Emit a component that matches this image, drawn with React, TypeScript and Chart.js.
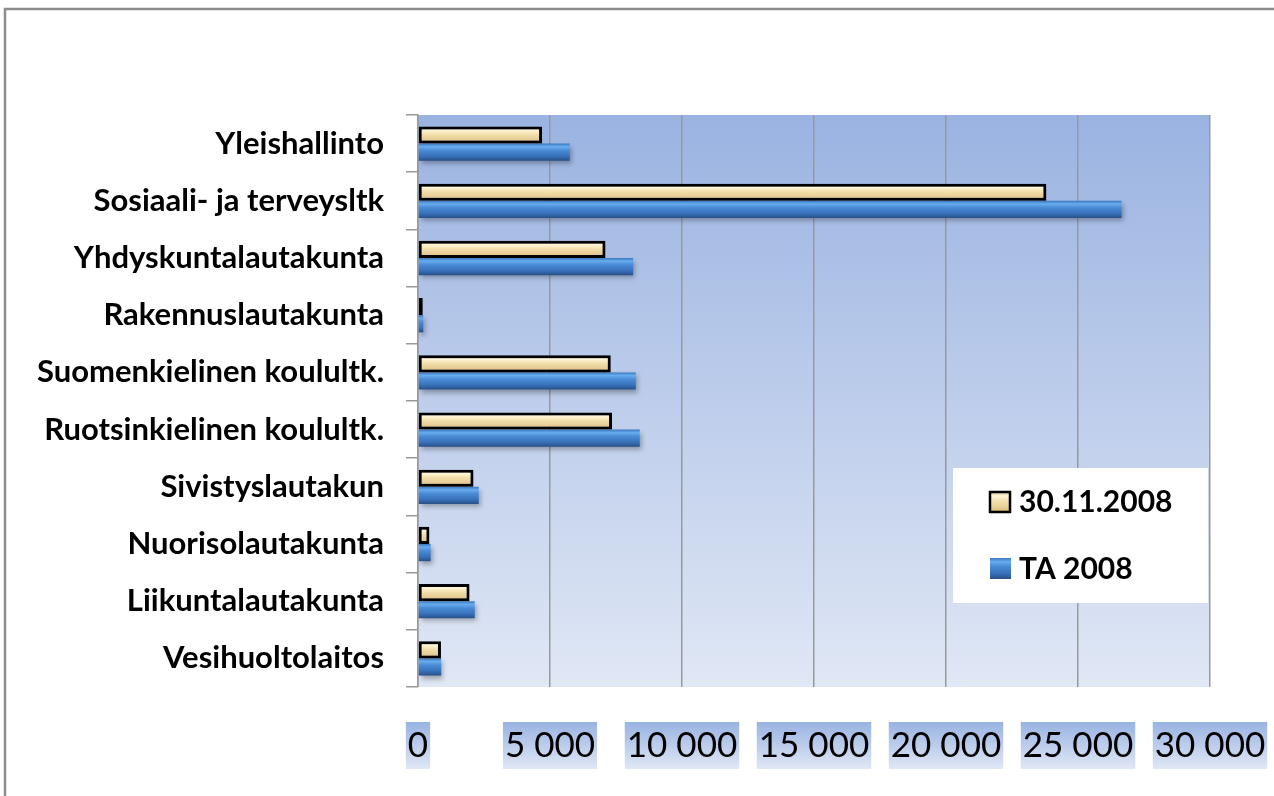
import React, { useEffect, useRef } from 'react';
import { Chart, registerables } from 'chart.js';

Chart.register(...registerables);

const categories = [
  'Yleishallinto',
  'Sosiaali- ja terveysltk',
  'Yhdyskuntalautakunta',
  'Rakennuslautakunta',
  'Suomenkielinen koulultk.',
  'Ruotsinkielinen koulultk.',
  'Sivistyslautakun',
  'Nuorisolautakunta',
  'Liikuntalautakunta',
  'Vesihuoltolaitos',
];
const seriesLabels = ['30.11.2008', 'TA 2008'];
const values20081130 = [4700, 23800, 7100, 180, 7300, 7350, 2100, 430, 1950, 870];
const valuesTA2008 = [5750, 26650, 8150, 200, 8250, 8400, 2300, 480, 2150, 880];
const xMin = 0;
const xMax = 30000;
const xStep = 5000;

const FONT = 'Lato, "Open Sans", sans-serif';
const CAT_FONT_SIZE = 31;
const TICK_FONT_SIZE = 35;
const LEGEND_FONT_SIZE = 30;

const fmt = (v: number) => String(v).replace(/\B(?=(\d{3})+(?!\d))/g, ' ');

function barBounds(chart: any, dataIndex: number, dsIndex: number) {
  const ys = chart.scales.y;
  const a = chart.chartArea;
  if (!ys || !a) return null;
  const center = ys.getPixelForValue(dataIndex);
  const cat = (a.bottom - a.top) / categories.length;
  const w = (cat * 0.6) / 2;
  const top = center - w + dsIndex * w;
  return { top, bottom: top + w };
}

function beigeFill(ctx: CanvasRenderingContext2D, top: number, bottom: number) {
  const g = ctx.createLinearGradient(0, top, 0, bottom);
  g.addColorStop(0, '#d2b47a');
  g.addColorStop(0.22, '#fff6d8');
  g.addColorStop(0.45, '#f3e0ae');
  g.addColorStop(0.8, '#e4c98f');
  g.addColorStop(1, '#c29f63');
  return g;
}

function blueFill(ctx: CanvasRenderingContext2D, top: number, bottom: number) {
  const g = ctx.createLinearGradient(0, top, 0, bottom);
  g.addColorStop(0, '#3a78c0');
  g.addColorStop(0.18, '#68acee');
  g.addColorStop(0.4, '#4a8bd6');
  g.addColorStop(0.75, '#3770b8');
  g.addColorStop(1, '#284f86');
  return g;
}

const decorPlugin = {
  id: 'decor',
  beforeDraw(chart: any) {
    const { ctx, chartArea: a } = chart;
    ctx.save();
    ctx.fillStyle = '#ffffff';
    ctx.fillRect(0, 0, chart.width, chart.height);
    ctx.strokeStyle = '#8c8c8c';
    ctx.lineWidth = 2.5;
    ctx.strokeRect(5, 9, chart.width + 20, chart.height + 20);

    const g = ctx.createLinearGradient(0, a.top, 0, a.bottom);
    g.addColorStop(0, '#9ab3e1');
    g.addColorStop(1, '#e0e7f5');
    ctx.fillStyle = g;
    ctx.fillRect(a.left, a.top, a.right - a.left, a.bottom - a.top);

    const xs = chart.scales.x;
    ctx.font = `${TICK_FONT_SIZE}px ${FONT}`;
    const boxTop = a.bottom + 35;
    const boxH = 47;
    xs.ticks.forEach((t: any) => {
      const label = fmt(t.value);
      const w = ctx.measureText(label).width;
      const px = xs.getPixelForValue(t.value);
      const bg = ctx.createLinearGradient(0, boxTop, 0, boxTop + boxH);
      bg.addColorStop(0, '#98b3e2');
      bg.addColorStop(1, '#e0e7f5');
      ctx.fillStyle = bg;
      ctx.fillRect(px - w / 2 - 2, boxTop, w + 4, boxH);
    });
    ctx.restore();
  },
  beforeDatasetsDraw(chart: any) {
    const ctx = chart.ctx;
    ctx.save();
    ctx.shadowColor = 'rgba(0,0,0,0.3)';
    ctx.shadowBlur = 5;
    ctx.shadowOffsetX = 2;
    ctx.shadowOffsetY = 3;
  },
  afterDatasetsDraw(chart: any) {
    chart.ctx.restore();
  },
  afterDraw(chart: any) {
    const ctx = chart.ctx;
    ctx.save();
    ctx.fillStyle = '#ffffff';
    ctx.fillRect(953, 468, 255, 135);
    ctx.fillStyle = beigeFill(ctx, 491, 513);
    ctx.fillRect(989, 491, 22, 22);
    ctx.strokeStyle = '#000';
    ctx.lineWidth = 2.5;
    ctx.strokeRect(990, 492, 20, 20);
    ctx.fillStyle = blueFill(ctx, 558, 579);
    ctx.fillRect(990, 558, 21, 21);
    ctx.fillStyle = '#000';
    ctx.font = `bold ${LEGEND_FONT_SIZE}px ${FONT}`;
    ctx.textBaseline = 'middle';
    ctx.textAlign = 'left';
    ctx.fillText(chart.data.datasets[0].label, 1019, 502);
    ctx.fillText(chart.data.datasets[1].label, 1019, 569);
    ctx.restore();
  },
};

export default function App() {
  const ref = useRef<HTMLCanvasElement | null>(null);
  useEffect(() => {
    if (!ref.current) return;
    const chart = new Chart(ref.current, {
      type: 'bar',
      data: {
        labels: categories,
        datasets: [
          {
            label: seriesLabels[0],
            data: values20081130,
            backgroundColor: (c: any) => {
              const b = barBounds(c.chart, c.dataIndex, 0);
              return b ? beigeFill(c.chart.ctx, b.top, b.bottom) : '#f0dcaa';
            },
            borderColor: '#000000',
            borderWidth: 3,
            borderSkipped: false,
          },
          {
            label: seriesLabels[1],
            data: valuesTA2008,
            backgroundColor: (c: any) => {
              const b = barBounds(c.chart, c.dataIndex, 1);
              return b ? blueFill(c.chart.ctx, b.top, b.bottom) : '#4a8ad4';
            },
            borderWidth: 0,
          },
        ],
      },
      options: {
        indexAxis: 'y',
        responsive: false,
        animation: false,
        layout: { padding: { top: 115, right: 64, bottom: 0, left: 0 } },
        datasets: { bar: { categoryPercentage: 0.6, barPercentage: 1.0 } },
        plugins: { legend: { display: false }, tooltip: { enabled: false } },
        scales: {
          x: {
            min: xMin,
            max: xMax,
            ticks: {
              stepSize: xStep,
              callback: (v: any) => fmt(Number(v)),
              color: '#000',
              font: { family: FONT, size: TICK_FONT_SIZE },
              padding: 38,
              maxRotation: 0,
            },
            grid: { color: '#999999', lineWidth: 1.5, drawTicks: false },
            border: { display: false },
            afterFit: (s: any) => {
              s.height = 796 - 687;
              s.paddingLeft = 0;
              s.paddingRight = 0;
            },
          },
          y: {
            ticks: {
              color: '#000',
              font: { family: FONT, size: CAT_FONT_SIZE, weight: 'bold' },
              padding: 22,
            },
            grid: { drawOnChartArea: false, drawTicks: true, tickLength: 12, color: '#999999', lineWidth: 1.5 },
            border: { display: true, color: '#999999', width: 1.5 },
            afterFit: (s: any) => { s.width = 418; },
          },
        },
      },
      plugins: [decorPlugin],
    } as any);
    return () => chart.destroy();
  }, []);
  return (
    <div style={{ position: 'absolute', left: 0, top: 0, width: 1274, height: 796 }}>
      <canvas ref={ref} width={1274} height={796} style={{ width: 1274, height: 796, display: 'block' }} />
    </div>
  );
}
